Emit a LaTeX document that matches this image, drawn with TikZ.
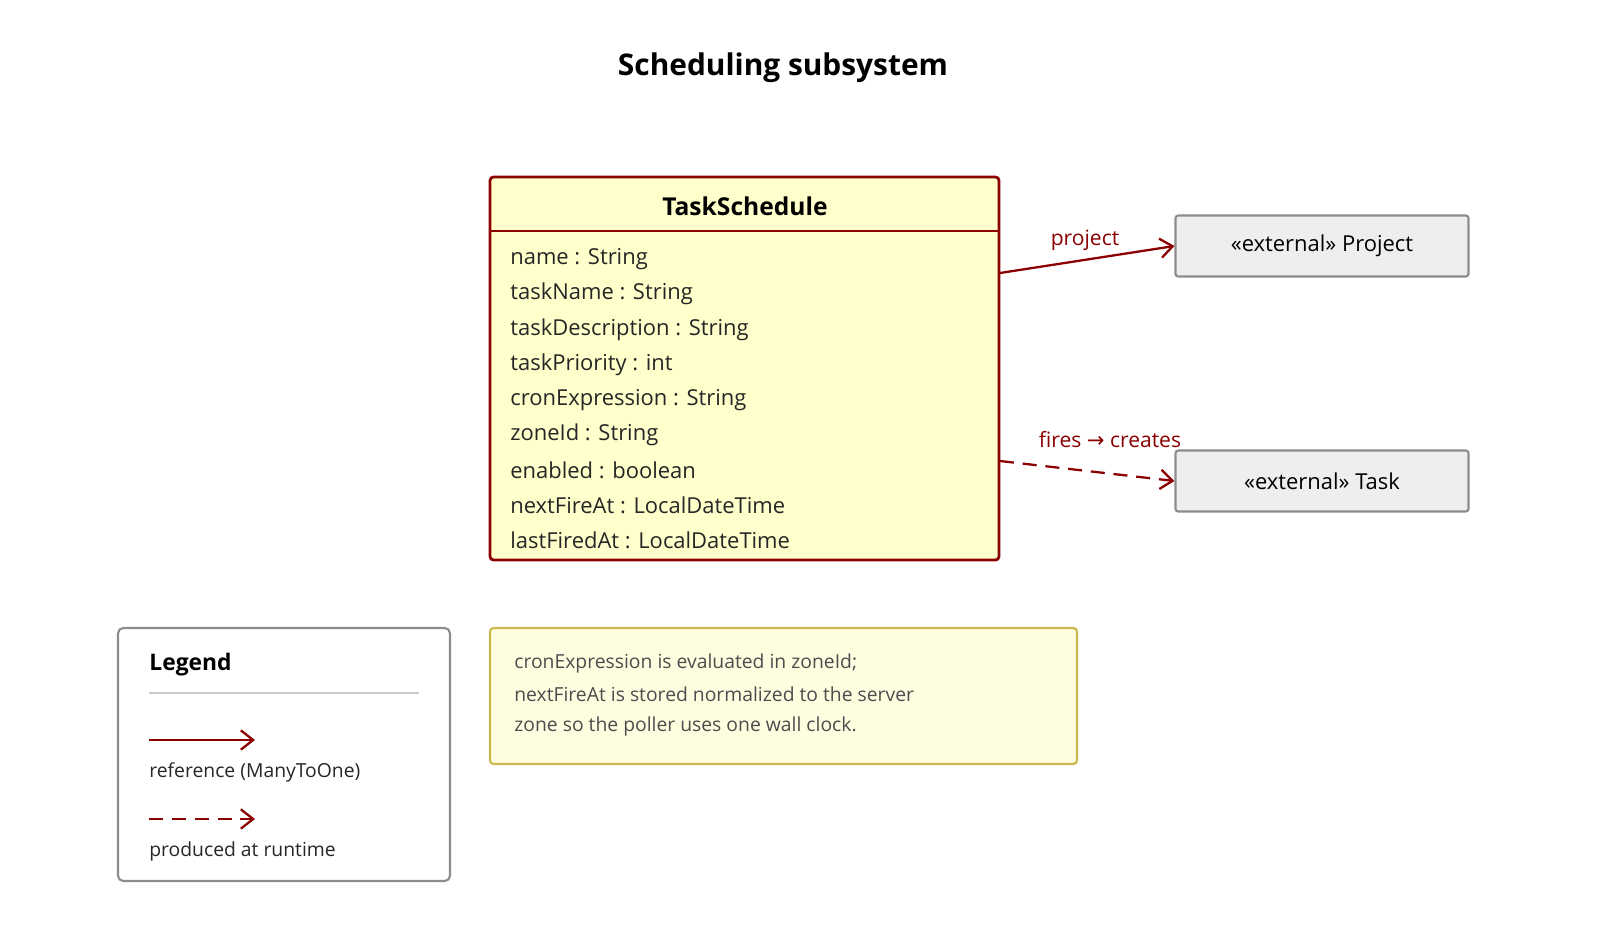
\documentclass[tikz,border=0pt]{standalone}
\usepackage{fontspec}
\setmainfont{Open Sans}
\newfontfamily\symfont{DejaVu Sans}
\usetikzlibrary{arrows.meta,positioning}
\definecolor{relred}{HTML}{8B0000}
\definecolor{classfill}{HTML}{FFFFCC}
\definecolor{extfill}{HTML}{EEEEEE}
\definecolor{notefill}{HTML}{FFFDE0}
\definecolor{noteline}{HTML}{C8B850}
\begin{document}
\begin{tikzpicture}[x=0.02cm,y=-0.02cm,
    attr/.style={anchor=west,font=\fontsize{12.5}{14}\selectfont,text=black!85,inner sep=0pt},
    extbox/.style={draw=black!45,fill=extfill,line width=1.2pt,rounded corners=1.5pt,minimum width=5.86cm,minimum height=1.22cm,font=\fontsize{12.5}{14}\selectfont},
    rel/.style={relred,line width=1.3pt,-{Straight Barb[length=7pt,width=11pt]}},
    lbl/.style={relred,font=\fontsize{12}{14}\selectfont,inner sep=0pt}]

    \useasboundingbox (0,0) rectangle (1600,940);

    \node[font=\bfseries\fontsize{17}{20}\selectfont] (title) at (783,68) {Scheduling subsystem};

    % class
    \draw[relred,line width=1.6pt,fill=classfill,rounded corners=2pt] (490,177) rectangle (999,560);
    \draw[relred,line width=1.1pt] (490,231) -- (999,231);
    \node[font=\bfseries\fontsize{14}{16}\selectfont] (cls) at (745,206) {TaskSchedule};
    \foreach \t [count=\i from 0] in {name : String, taskName : String, taskDescription : String,
        taskPriority : int, cronExpression : String, zoneId : String, enabled : boolean,
        nextFireAt : LocalDateTime, lastFiredAt : LocalDateTime}
        \node[attr] (a\i) at (510,{259+35.2*\i}) {\t};

    % external classes
    \node[extbox] (project) at (1322,246) {«external» Project};
    \node[extbox] (task) at (1322,481) {«external» Task};

    \coordinate (p1) at (1000,273);
    \coordinate (p2) at (1000,461);
    \draw[rel] (p1) -- (project.west);
    \draw[rel,dash pattern=on 8pt off 5pt] (p2) -- (task.west);
    \node[lbl] (lproj) at (1085,240) {project};
    \node[lbl] (ltask) at (1110,440) {fires {\symfont→} creates};

    % legend
    \draw[black!45,line width=1.2pt,rounded corners=3pt] (118,628) rectangle (450,881);
    \node[anchor=west,font=\bfseries\fontsize{13}{15}\selectfont,inner sep=0pt] (leg) at (149,665) {Legend};
    \draw[black!20,line width=1.2pt] (149,693) -- (419,693);
    \coordinate (l1a) at (149,740); \coordinate (l1b) at (255,740);
    \coordinate (l2a) at (149,819); \coordinate (l2b) at (255,819);
    \draw[rel] (l1a) -- (l1b);
    \draw[rel,dash pattern=on 8pt off 5pt] (l2a) -- (l2b);
    \node[attr,font=\fontsize{11}{13}\selectfont] (t1) at (149,772) {reference (ManyToOne)};
    \node[attr,font=\fontsize{11}{13}\selectfont] (t2) at (149,851) {produced at runtime};

    % note
    \draw[noteline,line width=1.2pt,fill=notefill,rounded corners=2pt] (490,628) rectangle (1077,764);
    \foreach \t [count=\i from 0] in {cronExpression is evaluated in zoneId;,
        nextFireAt is stored normalized to the server, zone so the poller uses one wall clock.}
        \node[attr,font=\fontsize{11}{13}\selectfont,text=black!70] (n\i) at (514,{663+31.5*\i}) {\t};

\end{tikzpicture}
\end{document}
